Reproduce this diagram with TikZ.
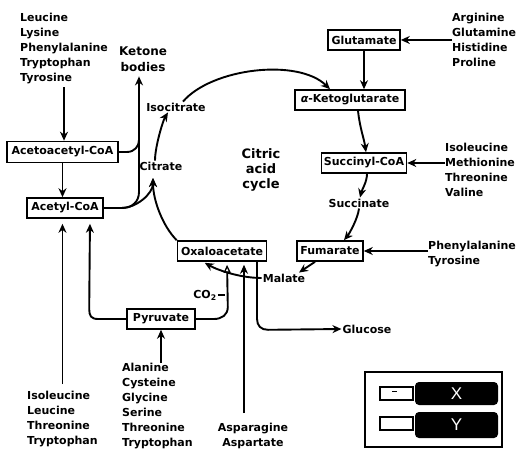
\documentclass[tikz,border=0pt]{standalone}
\usepackage{fontspec}
\setmainfont{DejaVu Sans}
\newfontfamily\legfont{Liberation Sans}
\usetikzlibrary{arrows.meta}
\begin{document}
\begin{tikzpicture}[x=1pt,y=-1pt,
  every node/.style={font=\bfseries\fontsize{11}{15}\selectfont, inner sep=1pt},
  box/.style={draw, line width=1.6pt, inner sep=0pt, minimum height=20pt},
  lst/.style={align=left, anchor=north west, inner sep=0pt},
  ln/.style={line width=1.9pt},
  conn/.style={ln, -{Stealth[length=9pt,width=8pt]}},
  openconn/.style={ln, -{Triangle[open,length=8pt,width=7pt,line width=1.3pt]}},
]
\useasboundingbox (0,0) rectangle (517,450);

% boxes
\node[box, minimum width=111pt, minimum height=21pt] (acac) at (62.5,152) {Acetoacetyl-CoA};
\node[box, minimum width=76pt] (acoa) at (65,208) {Acetyl-CoA};
\node[box, minimum width=72pt] (glu) at (364,40) {Glutamate};
\node[box, minimum width=110pt] (akg) at (350,100) {{\itshape α}-Ketoglutarate};
\node[box, minimum width=85pt] (succ) at (364,163) {Succinyl-CoA};
\node[box, minimum width=66pt] (fum) at (330,251) {Fumarate};
\node[box, minimum width=89pt] (oaa) at (222,251) {Oxaloacetate};
\node[box, minimum width=68pt] (pyr) at (161,319) {Pyruvate};

% labels
\node[align=center, font=\bfseries\fontsize{12}{15.5}\selectfont] (ketone) at (143,59) {Ketone\\bodies};
\node (isocit) at (176,107) {Isocitrate};
\node (cit) at (161,166) {Citrate};
\node[align=center, font=\bfseries\fontsize{13}{15}\selectfont] (tca) at (261,170) {Citric\\acid\\cycle};
\node (succinate) at (359,203) {Succinate};
\node (malate) at (284,278) {Malate};
\node (co2) at (205,295) {CO\textsubscript{2}};
\node (glucose) at (367,329) {Glucose};

% amino acid lists
\node[lst] (aa1) at (20,13) {Leucine\\Lysine\\Phenylalanine\\Tryptophan\\Tyrosine};
\node[lst] (aa2) at (452,13) {Arginine\\Glutamine\\Histidine\\Proline};
\node[lst] (aa3) at (445,143) {Isoleucine\\Methionine\\Threonine\\Valine};
\node[lst] (aa4) at (428,241) {Phenylalanine\\Tyrosine};
\node[lst] (aa5) at (27,391) {Isoleucine\\Leucine\\Threonine\\Tryptophan};
\node[lst] (aa6) at (122,363) {Alanine\\Cysteine\\Glycine\\Serine\\Threonine\\Tryptophan};
\node[align=center, anchor=north, inner sep=0pt] (aa7) at (253,423) {Asparagine\\Aspartate};

% connectors
\draw[conn, shorten <=3pt] (aa1.south) -- (aa1.south |- acac.north);
\draw[conn] (acac.south) -- (acac.south |- acoa.north);
\coordinate (kv) at (139,140);
\draw[ln] (acac.east) -- ++(8,0) .. controls +(8,0) and +(0,6) .. (kv);
\draw[conn, shorten >=4pt] (acoa.east) -- ++(18,0) .. controls +(10,0) and +(0,10) .. (139,192) -- (kv |- ketone.south);
\coordinate (citin) at (153,178);
\draw[conn] (acoa.east) -- ++(18,0) .. controls +(14,0) and +(0,16) .. (citin);
\draw[conn] (oaa.north west) .. controls +(-14,-14) and +(0,22) .. (citin);
\draw[conn] ([xshift=-6pt]cit.north) .. controls +(0,-14) and +(-5,8) .. ([xshift=-8pt]isocit.south);
\draw[conn] ([xshift=7pt]isocit.north) .. controls (212,68) and (298,58) .. ([xshift=-20pt]akg.north);
\draw[conn] (glu.south) -- (glu.south |- akg.north);
\draw[conn] (aa2.west) -- (aa2.west -| glu.east);
\draw[conn] ([xshift=8pt]akg.south) .. controls +(2,18) and +(-2,-14) .. ([xshift=2pt]succ.north);
\draw[conn] (aa3.west |- succ.east) -- (succ.east);
\draw[conn] ([xshift=3pt]succ.south) .. controls +(0,8) and +(2,-8) .. ([xshift=1pt]succinate.north);
\draw[conn] (succinate.south) .. controls +(-1,10) and +(5,-6) .. ([xshift=14pt]fum.north);
\draw[conn] (aa4.west |- fum.east) -- (fum.east);
\draw[conn] ([xshift=-15pt]fum.south) -- ([xshift=15pt]malate.north);
\draw[conn, shorten >=2pt] (malate.west) .. controls +(-22,0) and +(14,8) .. ([xshift=-19pt]oaa.south);
\draw[conn] ([xshift=35pt]oaa.south) -- ++(0,57) .. controls +(0,7) and +(-7,0) .. ++(11,11) -- (glucose.west);
\draw[openconn, shorten >=3pt] (pyr.east) -- ++(18,0) .. controls +(8,0) and +(0,8) .. ++(14,-12) -- ([xshift=5pt]oaa.south);
\draw[ln] (co2.east) -- ++(7,0);
\draw[conn, shorten >=3pt] ([xshift=-9pt,yshift=10pt]aa7.north) -- ([xshift=-9pt]aa7.north |- oaa.south);
\draw[conn] (aa6.north -| pyr.south) -- (pyr.south);
\draw[conn, shorten >=5pt] (pyr.west) -- ++(-28,0) .. controls +(-7,0) and +(0,7) .. ++(-9,-10) -- ([xshift=25pt]acoa.south);
\draw[conn, shorten >=5pt] ([yshift=7pt]aa5.north) -- (aa5.north |- acoa.south);

% legend
\node[draw, line width=1.6pt, minimum width=137pt, minimum height=75pt, inner sep=0pt] (legend) at (433.5,409.5) {};
\node[draw, line width=1.3pt, minimum width=33pt, minimum height=13pt, inner sep=0pt] (kx) at (396.5,393.5) {};
\node[draw, line width=1.3pt, minimum width=33pt, minimum height=13pt, inner sep=0pt] (ky) at (396.5,423.5) {};
\draw[line width=1pt] ([xshift=-4.5pt,yshift=2.5pt]kx.center) -- ++(5,0);
\node[fill=black, rounded corners=4pt, minimum width=83pt, minimum height=23pt, text=white, font=\legfont\fontsize{17}{17}\selectfont] (X) at (456.5,393.5) {X};
\node[fill=black, rounded corners=4pt, minimum width=83pt, minimum height=26pt, text=white, font=\legfont\fontsize{17}{17}\selectfont] (Y) at (456.5,425) {Y};
\end{tikzpicture}
\end{document}
